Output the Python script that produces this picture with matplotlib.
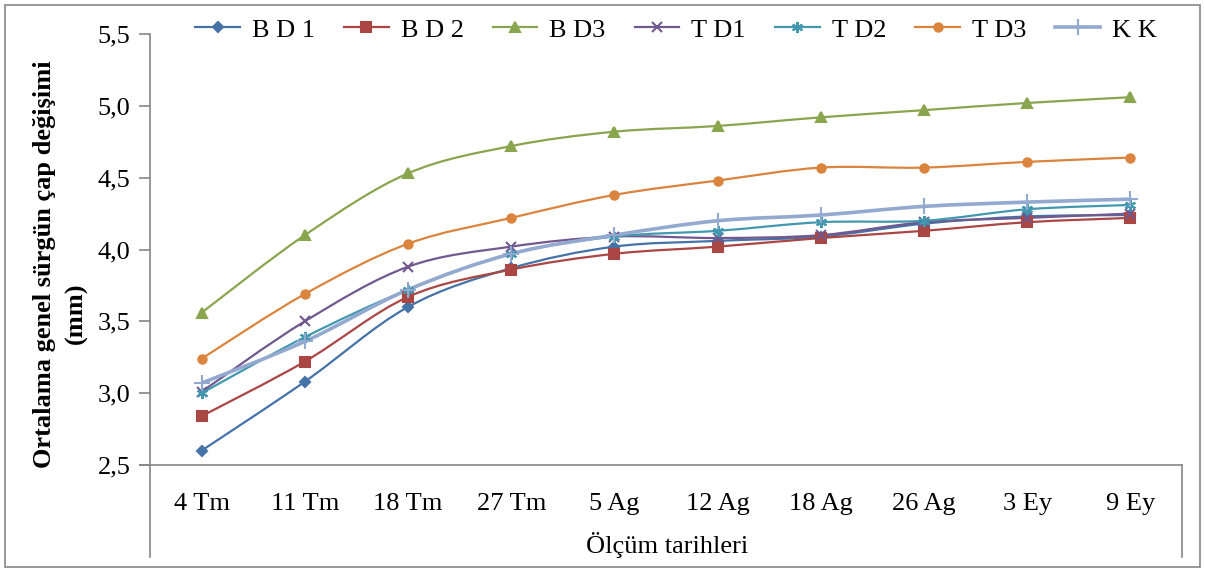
import numpy as np
import matplotlib.pyplot as plt
from matplotlib.path import Path
from matplotlib.patches import PathPatch
from matplotlib.lines import Line2D

plt.rcParams['font.family'] = ['Liberation Serif', 'DejaVu Serif']

# measurement dates
dates = ["4 Tm", "11 Tm", "18 Tm", "27 Tm", "5 Ag", "12 Ag", "18 Ag", "26 Ag", "3 Ey", "9 Ey"]

# mean shoot diameter change (mm)
bd1 = [2.60, 3.08, 3.60, 3.87, 4.02, 4.06, 4.09, 4.18, 4.23, 4.24]
bd2 = [2.84, 3.22, 3.67, 3.86, 3.97, 4.02, 4.08, 4.13, 4.19, 4.22]
bd3 = [3.56, 4.10, 4.53, 4.72, 4.82, 4.86, 4.92, 4.97, 5.02, 5.06]
td1 = [3.01, 3.50, 3.88, 4.02, 4.09, 4.08, 4.10, 4.19, 4.22, 4.25]
td2 = [3.00, 3.39, 3.72, 3.97, 4.09, 4.13, 4.19, 4.20, 4.28, 4.31]
td3 = [3.24, 3.69, 4.04, 4.22, 4.38, 4.48, 4.57, 4.57, 4.61, 4.64]
kk = [3.07, 3.36, 3.72, 3.97, 4.10, 4.20, 4.24, 4.30, 4.33, 4.35]

names = ["B D 1", "B D 2", "B D3", "T D1", "T D2", "T D3", "K K"]
series = [bd1, bd2, bd3, td1, td2, td3, kk]
colors = ["#4572A7", "#AA4643", "#89A54E", "#71588F", "#4198AF", "#DB843D", "#93A9CF"]
markers = ["D", "s", "^", "x", (6, 2, 0), "o", "+"]
msizes = [5, 7, 7, 7, 8, 6, 11]
lwidths = [1.6, 1.6, 1.6, 1.6, 1.6, 1.6, 2.6]


def smooth_path(xs, ys):
    # bezier segments with catmull-rom style tangents (like office "smoothed line")
    pts = np.column_stack([xs, ys]).astype(float)
    n = len(pts)
    verts = [pts[0]]
    codes = [Path.MOVETO]
    for i in range(n - 1):
        p0 = pts[i - 1] if i > 0 else pts[i]
        p1 = pts[i]
        p2 = pts[i + 1]
        p3 = pts[i + 2] if i + 2 < n else pts[i + 1]
        c1 = p1 + (p2 - p0) / 6.0
        c2 = p2 - (p3 - p1) / 6.0
        verts += [c1, c2, p2]
        codes += [Path.CURVE4] * 3
    return Path(verts, codes)


fig = plt.figure(figsize=(12.05, 5.70), dpi=100)
ax = fig.add_axes([150 / 1205, 105 / 570, 1032 / 1205, 431 / 570])

x = np.arange(len(dates))
handles = []
for vals, name, c, m, ms, lw in zip(series, names, colors, markers, msizes, lwidths):
    ax.add_patch(PathPatch(smooth_path(x, vals), facecolor="none", edgecolor=c, lw=lw, zorder=2))
    ax.plot(x, vals, linestyle="none", marker=m, markersize=ms, color=c,
            markeredgewidth=1.5, zorder=3)
    handles.append(Line2D([], [], color=c, lw=lw, marker=m, markersize=ms, markeredgewidth=1.5))

ax.set_xlim(-0.5, len(dates) - 0.5)
ax.set_ylim(2.5, 5.5)
ax.set_yticks(np.arange(2.5, 5.51, 0.5))
ax.set_yticklabels([f"{v:.1f}".replace(".", ",") for v in np.arange(2.5, 5.51, 0.5)])
ax.set_xticks(x)
ax.set_xticklabels(dates)
ax.tick_params(axis="y", direction="out", length=8, width=1.2, color="#868686",
               labelsize=19, pad=6)
ax.tick_params(axis="x", length=0, labelsize=19, pad=20)

for s in ["top", "right"]:
    ax.spines[s].set_visible(False)
for s in ["left", "bottom"]:
    ax.spines[s].set_color("#868686")
    ax.spines[s].set_linewidth(1.2)

# category area frame below the axis
fig.add_artist(Line2D([150 / 1205, 150 / 1205], [13 / 570, 105 / 570], color="#868686", lw=1.2))
fig.add_artist(Line2D([1182 / 1205, 1182 / 1205], [13 / 570, 105 / 570], color="#868686", lw=1.2))
fig.add_artist(Line2D([140 / 1205, 150 / 1205], [105 / 570, 105 / 570], color="#868686", lw=1.2))

# outer border
fig.add_artist(plt.Rectangle((5 / 1205, 3 / 570), 1195 / 1205, 562 / 570, fill=False,
                             edgecolor="#868686", lw=1.2))

fig.text(667 / 1205, 25 / 570, "Ölçüm tarihleri", ha="center", va="center", fontsize=19)
fig.text(45 / 1205, 306 / 570, "Ortalama genel sürgün çap değişimi", ha="center",
         va="center", rotation=90, fontsize=19, fontweight="bold")
fig.text(76 / 1205, 257 / 570, "(mm)", ha="center", va="center", rotation=90,
         fontsize=19, fontweight="bold")

fig.legend(handles, names, loc="center", bbox_to_anchor=(676 / 1205, 540 / 570), ncol=7,
           frameon=False, fontsize=19, handlelength=1.7, handletextpad=0.45,
           columnspacing=1.1)

fig.savefig("out.png", dpi=100)
